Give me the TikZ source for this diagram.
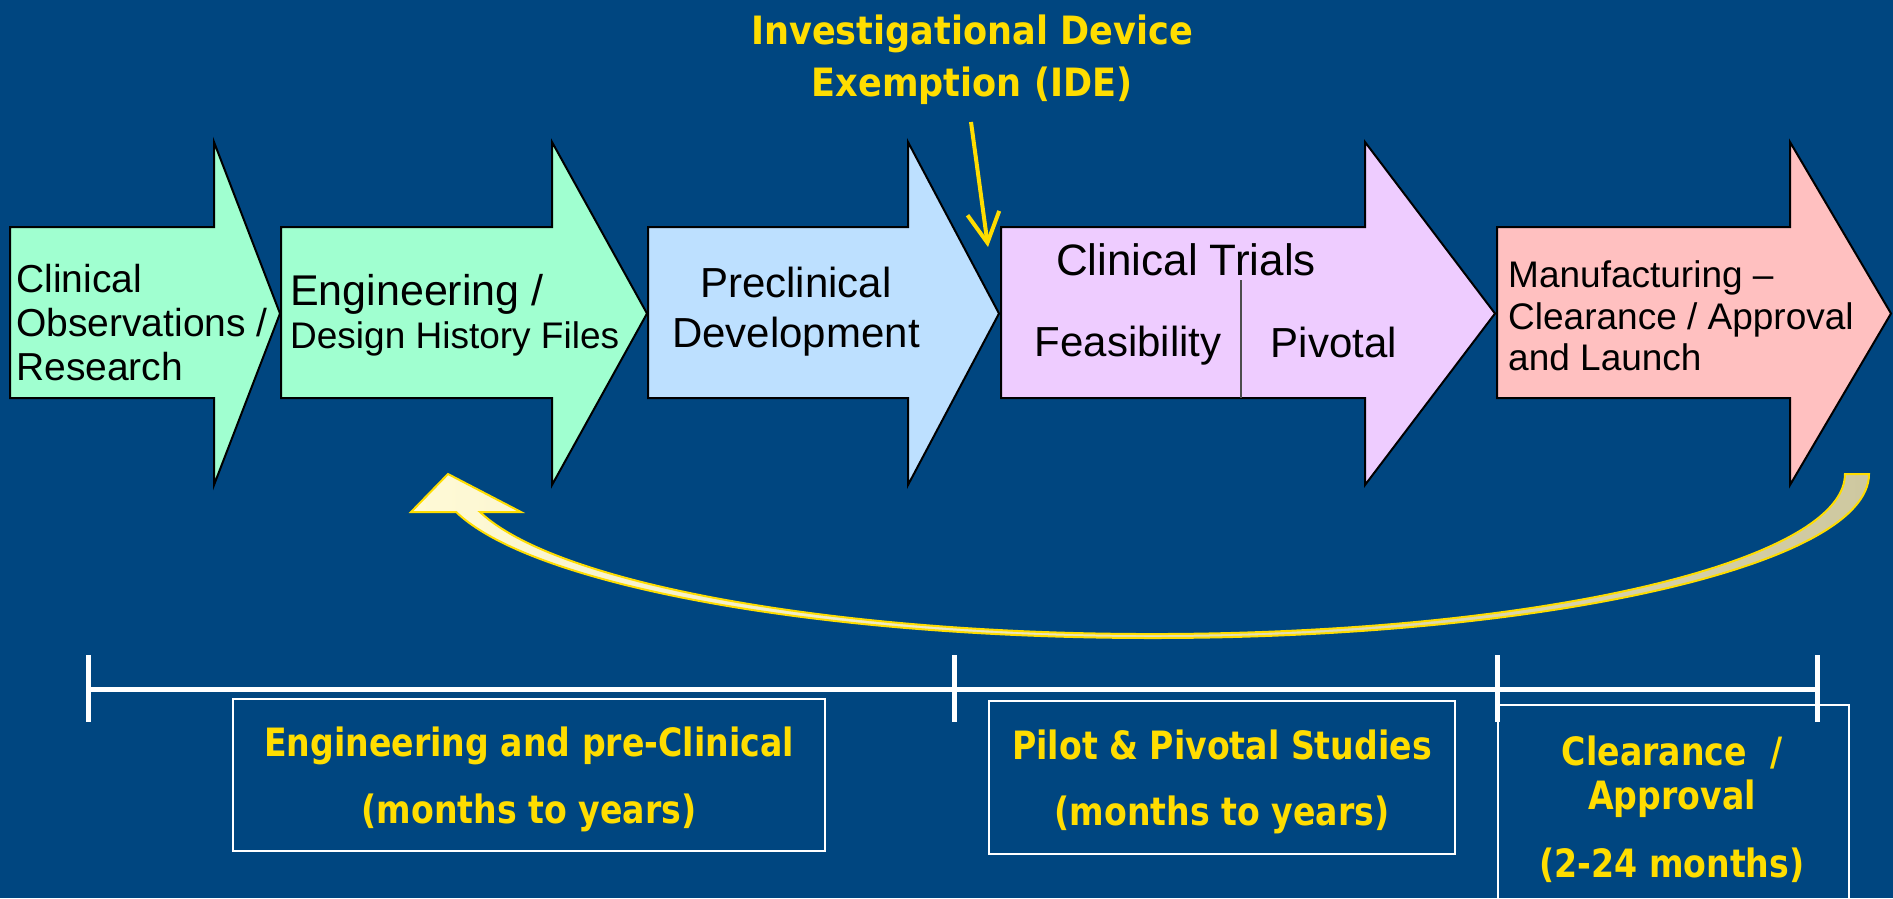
\documentclass[tikz,border=0pt]{standalone}
\usepackage{fontspec}
\usepackage{graphicx}
\setmainfont{Liberation Sans}
\newfontfamily\yfont{DejaVu Sans}
\usetikzlibrary{arrows.meta}

\definecolor{bg}{HTML}{004680}
\definecolor{mint}{HTML}{A0FFD0}
\definecolor{skyb}{HTML}{BDE0FF}
\definecolor{lilac}{HTML}{EECCFF}
\definecolor{salmon}{HTML}{FFC0C0}
\definecolor{gold}{HTML}{FFDD00}
\definecolor{cream}{HTML}{FFFAD6}
\definecolor{khaki}{HTML}{CEC8A0}

% condensed bold lettering for the yellow captions
\newcommand\squeeze[1]{\scalebox{0.85}[1]{#1}}

% block arrow: #1 fill, #2 left edge, #3 start of head, #4 tip
\newcommand\phasearrow[4]{%
  \draw[phasebox, fill=#1] (#2,-227) -- (#3,-227) -- (#3,-142) -- (#4,-313.5)
    -- (#3,-485) -- (#3,-398) -- (#2,-398) -- cycle;}

\tikzset{
  phasebox/.style={draw=black, line width=2pt},
  lbl/.style={inner sep=0pt, text=black},
  ytxt/.style={inner sep=0pt, text=gold, align=center},
  spanbox/.style={draw=white, line width=2pt},
  ruler/.style={draw=white, line width=5pt},
}

\begin{document}
\begin{tikzpicture}[x=1pt, y=1pt]
\useasboundingbox (0,0) rectangle (1893,-898);
\clip (0,0) rectangle (1893,-898);
\fill[bg] (0,0) rectangle (1893,-898);

% phase arrows
\phasearrow{mint}{10}{214}{280}
\phasearrow{mint}{281}{552}{647}
\phasearrow{skyb}{648}{908}{999}
\phasearrow{lilac}{1001}{1365}{1495}
\phasearrow{salmon}{1497}{1790}{1891}
\draw[draw=black!70, line width=1.5pt] (1241,-280) -- (1241,-398);

% phase labels
\node[lbl, anchor=west, align=left, font=\fontsize{39}{44}\selectfont] (obs) at (16,-323)
  {Clinical\\Observations /\\Research};
\node[lbl, anchor=west, align=left, font=\fontsize{37}{43}\selectfont] (eng) at (290,-315)
  {{\fontsize{43}{43}\selectfont Engineering /}\\Design History Files};
\node[lbl, align=center, font=\fontsize{42}{50}\selectfont] (pre) at (796,-312)
  {Preclinical\\Development};
\node[lbl, font=\fontsize{44}{50}\selectfont] (trials) at (1186,-260) {Clinical Trials};
\node[lbl, font=\fontsize{42}{50}\selectfont] (feas) at (1128,-346) {Feasibility};
\node[lbl, font=\fontsize{42}{50}\selectfont] (piv) at (1334,-342) {Pivotal};
\node[lbl, anchor=west, align=left, font=\fontsize{37}{41.5}\selectfont] (mfg) at (1508,-316)
  {Manufacturing --\\Clearance / Approval\\and Launch};

% IDE callout
\node[ytxt, font=\yfont\bfseries\fontsize{39}{52}\selectfont] (ide) at (972,-60)
  {\scalebox{0.9}[1]{Investigational Device}\\\scalebox{0.9}[1]{Exemption (IDE)}};
\coordinate (idefrom) at (971,-122);
\coordinate (ideto) at (988,-247);
\draw[gold, line width=4pt, -{Straight Barb[length=30pt, width=32pt]}] (idefrom) -- (ideto);

% feedback loop arrow
\shadedraw[left color=cream, right color=khaki, draw=gold, line width=2pt, line join=miter]
  (448,-474) -- (521,-512) -- (480,-512)
  arc[start angle=193.74, end angle=360, x radius=692.4, y radius=160]
  -- (1869,-474)
  arc[start angle=0, end angle=-166.6, x radius=716.2, y radius=164]
  -- (411,-512) -- cycle;

% timeline
\coordinate (t0) at (88,-689);
\coordinate (t1) at (954,-689);
\coordinate (t2) at (1497,-689);
\coordinate (t3) at (1817,-689);
\draw[ruler] (t0) -- (t3);
\foreach \t in {t0,t1,t2,t3}
  \draw[ruler] ([yshift=34pt]\t) -- ([yshift=-33pt]\t);

% duration boxes
\draw[spanbox] (233,-699) rectangle (825,-851);
\draw[spanbox] (989,-701) rectangle (1455,-854);
\draw[spanbox] (1498,-705) rectangle (1849,-920);

\node[ytxt, font=\yfont\bfseries\fontsize{39}{67}\selectfont] (span1) at (529,-779)
  {\squeeze{Engineering and pre-Clinical}\\\squeeze{(months to years)}};
\node[ytxt, font=\yfont\bfseries\fontsize{39}{66}\selectfont] (span2) at (1222,-782)
  {\squeeze{Pilot \& Pivotal Studies}\\\squeeze{(months to years)}};
\node[ytxt, font=\yfont\bfseries\fontsize{39}{44}\selectfont] (span3) at (1672,-809)
  {\squeeze{Clearance\ \ /}\\\squeeze{Approval}\\[24pt]\squeeze{(2-24 months)}};
\end{tikzpicture}
\end{document}
